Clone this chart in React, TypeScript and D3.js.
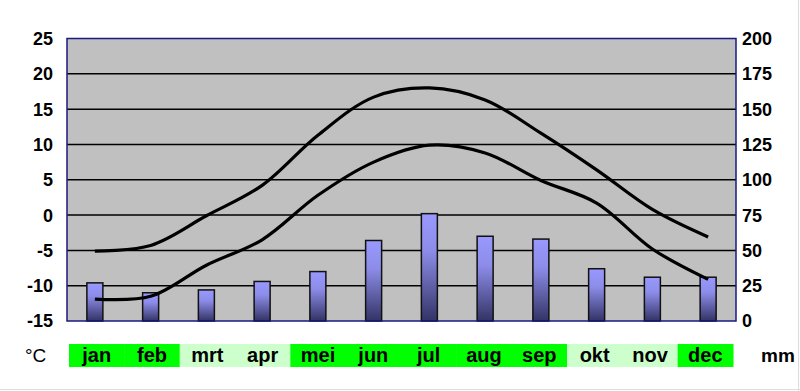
import React from "react";
import * as d3 from "d3";

const months = ["jan", "feb", "mrt", "apr", "mei", "jun", "jul", "aug", "sep", "okt", "nov", "dec"];
const tMax = [-5.1, -4.3, -0.1, 4.2, 11.3, 16.7, 18, 16.3, 11.6, 6.4, 0.8, -3.1];
const tMin = [-11.9, -11.5, -7.1, -3.5, 2.8, 7.5, 9.9, 8.8, 4.9, 1.7, -4.8, -9.1];
const precip = [27, 20, 22, 28, 35, 57, 76, 60, 58, 37, 31, 31];
const bandColors = ["#00ff00", "#00ff00", "#ccffcc", "#ccffcc", "#00ff00", "#00ff00", "#00ff00", "#00ff00", "#00ff00", "#ccffcc", "#ccffcc", "#00ff00"];
const leftTicks = [-15, -10, -5, 0, 5, 10, 15, 20, 25];
const rightTicks = [0, 25, 50, 75, 100, 125, 150, 175, 200];

const W = 800, H = 391;
const L = 67, R = 736, T = 38.5, B = 321;

export default function App() {
  const x = d3.scaleBand<string>().domain(months).range([L, R]);
  const yT = d3.scaleLinear().domain([-15, 25]).range([B, T]);
  const yP = d3.scaleLinear().domain([0, 200]).range([B, T]);
  const cx = (m: string) => (x(m) as number) + x.bandwidth() / 2;
  const line = d3
    .line<number>()
    .x((_, i) => cx(months[i]))
    .y((d) => yT(d))
    .curve(d3.curveCatmullRom.alpha(0.5));
  const barW = 16;
  const font = "Arial, 'Liberation Sans', sans-serif";
  const bx = d3.scaleBand<string>().domain(months).range([69, 733]);
  return (
    <svg width={W} height={H} style={{ position: "absolute", left: 0, top: 0, background: "#fff" }} fontFamily={font}>
      <defs>
        <linearGradient id="barg" x1="0" y1="0" x2="0" y2="1">
          <stop offset="0" stopColor="#9999ff" />
          <stop offset="0.35" stopColor="#8c8ce8" />
          <stop offset="1" stopColor="#333366" />
        </linearGradient>
      </defs>
      <rect x={L} y={T} width={R - L} height={B - T} fill="#c0c0c0" />
      {leftTicks.slice(1, -1).map((t) => (
        <line key={t} x1={L} x2={R} y1={yT(t)} y2={yT(t)} stroke="#000" strokeWidth={1.5} />
      ))}
      {precip.map((p, i) => (
        <rect
          key={i}
          x={cx(months[i]) - barW / 2}
          y={yP(p)}
          width={barW}
          height={B - yP(p)}
          fill="url(#barg)"
          stroke="#111"
          strokeWidth={1.5}
        />
      ))}
      <path d={line(tMax) as string} fill="none" stroke="#000" strokeWidth={3.2} />
      <path d={line(tMin) as string} fill="none" stroke="#000" strokeWidth={3.2} />
      <rect x={L} y={T} width={R - L} height={B - T} fill="none" stroke="#1a1a80" strokeWidth={1.5} />
      {leftTicks.map((t) => (
        <text key={t} x={53} y={yT(t)} dy="0.36em" textAnchor="end" fontSize={18} fontWeight="bold" fill="#000">
          {t}
        </text>
      ))}
      {rightTicks.map((t) => (
        <text key={t} x={742} y={yP(t)} dy="0.36em" textAnchor="start" fontSize={18} fontWeight="bold" fill="#000">
          {t}
        </text>
      ))}
      {months.map((m, i) => (
        <g key={m}>
          <rect x={bx(m)} y={344} width={bx.bandwidth() + 0.5} height={23} fill={bandColors[i]} />
          <text
            x={(bx(m) as number) + bx.bandwidth() / 2}
            y={355}
            dy="0.36em"
            textAnchor="middle"
            fontSize={20}
            fontWeight="bold"
            fill="#000"
          >
            {m}
          </text>
        </g>
      ))}
      <text x={25} y={355} dy="0.36em" fontSize={19} fill="#000">°C</text>
      <text x={761} y={355} dy="0.36em" fontSize={19} fontWeight="bold" fill="#000">mm</text>
      <line x1={0} x2={W} y1={389.5} y2={389.5} stroke="#ddd" strokeWidth={1} />
      <line x1={798.5} x2={798.5} y1={0} y2={H} stroke="#ddd" strokeWidth={1} />
    </svg>
  );
}
